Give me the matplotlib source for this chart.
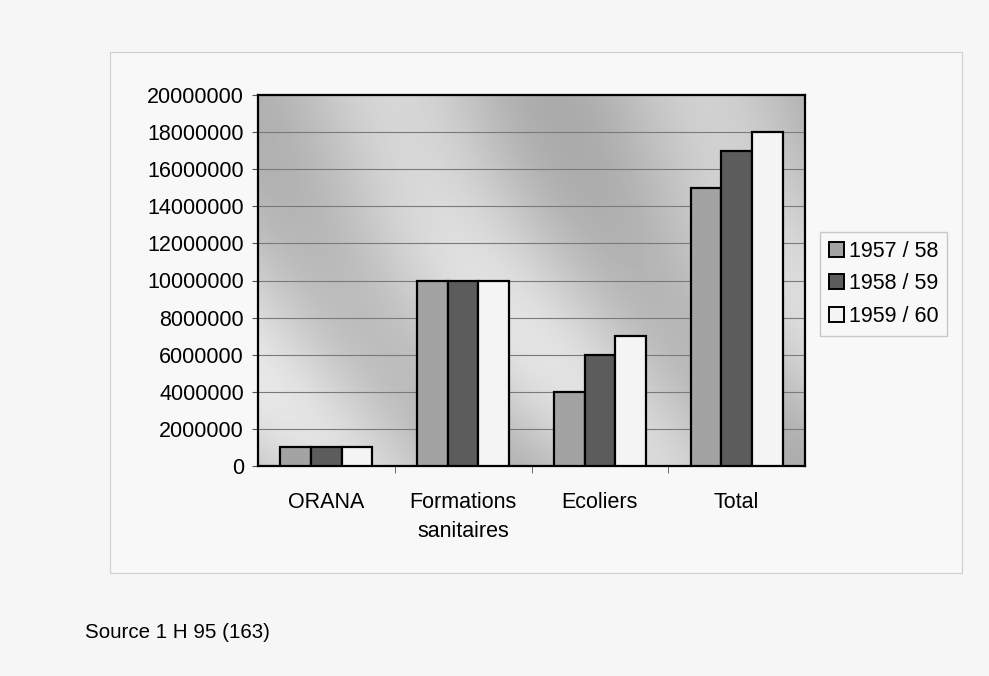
import numpy as np
import matplotlib.pyplot as plt
from matplotlib.patches import Rectangle

categories = ["ORANA", "Formations\nsanitaires", "Ecoliers", "Total"]
series_names = ["1957 / 58", "1958 / 59", "1959 / 60"]
v_1957 = [1000000, 10000000, 4000000, 15000000]
v_1958 = [1000000, 10000000, 6000000, 17000000]
v_1959 = [1000000, 10000000, 7000000, 18000000]
y_ticks = [0, 2000000, 4000000, 6000000, 8000000, 10000000,
           12000000, 14000000, 16000000, 18000000, 20000000]

colours = ["#a3a3a3", "#5c5c5c", "#f4f4f4"]

plt.rcParams['font.family'] = ['Liberation Sans', 'DejaVu Sans']

fig = plt.figure(figsize=(9.89, 6.76), dpi=100)
fig.patch.set_facecolor("#f6f6f6")

# outer chart frame
fig.patches.append(Rectangle((110/989, 1-573/676), 852/989, 521/676,
    transform=fig.transFigure, fill=True, facecolor="#f8f8f8",
    edgecolor="#cfcfcf", lw=0.8, zorder=-5))

ax = fig.add_axes([258/989, 1-466/676, 547/989, 371/676])

# streaky grey backdrop, like the scanned fill (diagonal light bands)
gx, gy = np.meshgrid(np.linspace(0, 1, 400), np.linspace(0, 1, 300))
bg = (0.76 + 0.08*np.sin(11*(gx + 0.45*gy) + 0.8*np.sin(3*gy))
      + 0.03*np.sin(5*gy) + 0.04*(1 - gx))
ax.imshow(bg, extent=[-0.5, 3.5, 0, 20000000], aspect='auto', cmap='gray',
          vmin=0, vmax=1, origin='lower', zorder=0)

x = np.arange(len(categories))
w = 0.224
for i, (vals, c, name) in enumerate(zip([v_1957, v_1958, v_1959], colours, series_names)):
    ax.bar(x + (i-1)*w, vals, width=w, color=c, edgecolor="black", linewidth=1.6,
           label=name, zorder=3)

ax.set_xlim(-0.5, 3.5)
ax.set_ylim(0, 20000000)
ax.set_yticks(y_ticks)
ax.set_yticklabels([str(t) for t in y_ticks], fontsize=15.5)
ax.yaxis.grid(True, color="#7a7a7a", lw=0.8, zorder=1)
ax.set_axisbelow(True)

ax.set_xticks(x)
ax.set_xticklabels(categories, fontsize=15.5, linespacing=1.45)
ax.tick_params(axis='x', length=0, pad=19)
ax.set_xticks([0.5, 1.5, 2.5], minor=True)
ax.tick_params(axis='x', which='minor', length=5, direction='out', color="#555555")
ax.tick_params(axis='y', length=4, color="#555555", pad=6)
for s in ax.spines.values():
    s.set_linewidth(1.6)
    s.set_color("black")

leg = fig.legend(loc='upper left', bbox_to_anchor=(820/989, 1-232/676),
                 fontsize=15.5, frameon=True, fancybox=False, edgecolor="#bbbbbb",
                 handlelength=0.7, handleheight=0.7, handletextpad=0.25,
                 labelspacing=0.55, borderpad=0.4, borderaxespad=0)
leg.get_frame().set_facecolor("#f8f8f8")
for h in leg.legend_handles:
    h.set_linewidth(1.4)

fig.text(85/989, 1-633/676, "Source 1 H 95 (163)", fontsize=14.8, va='center')

fig.savefig("out.png", dpi=100, facecolor=fig.get_facecolor())
